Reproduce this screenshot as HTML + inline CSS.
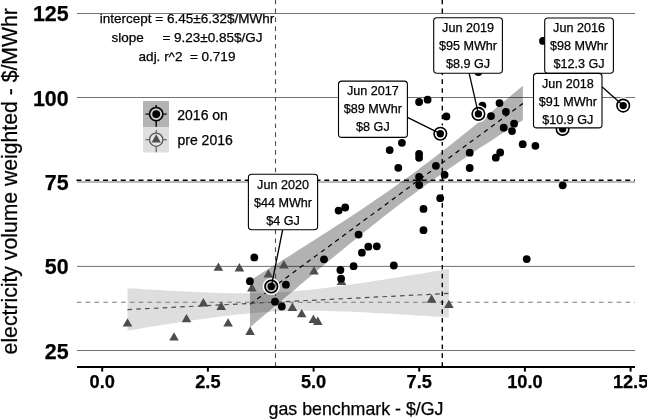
<!DOCTYPE html>
<html><head><meta charset="utf-8"><style>
html,body{margin:0;padding:0;background:#fff;width:647px;height:419px;overflow:hidden}
svg{display:block;font-family:"Liberation Sans",Arial,Helvetica,sans-serif;fill:#000}
text{fill:#000;stroke:#000;stroke-width:0.25px}
</style></head><body>
<svg width="647" height="419" viewBox="0 0 647 419">
<rect width="647" height="419" fill="#fff"/>
<line x1="77" x2="635" y1="13.50" y2="13.50" stroke="#727272" stroke-width="1"/>
<line x1="77" x2="635" y1="97.50" y2="97.50" stroke="#727272" stroke-width="1"/>
<line x1="77" x2="635" y1="182.00" y2="182.00" stroke="#727272" stroke-width="1"/>
<line x1="77" x2="635" y1="266.40" y2="266.40" stroke="#727272" stroke-width="1"/>
<line x1="77" x2="635" y1="350.50" y2="350.50" stroke="#727272" stroke-width="1"/>
<polygon points="127.5,288.2 132.9,288.5 138.2,288.8 143.6,289.2 148.9,289.5 154.3,289.8 159.6,290.1 165.0,290.5 170.4,290.8 175.7,291.0 181.1,291.3 186.4,291.6 191.8,291.8 197.1,292.1 202.5,292.3 207.8,292.5 213.2,292.7 218.6,292.9 223.9,293.0 229.3,293.1 234.6,293.2 240.0,293.2 245.3,293.2 250.7,293.2 256.1,293.1 261.4,293.0 266.8,292.8 272.1,292.6 277.5,292.3 282.8,292.0 288.2,291.7 293.6,291.2 298.9,290.8 304.3,290.3 309.6,289.7 315.0,289.2 320.3,288.5 325.7,287.9 331.1,287.2 336.4,286.5 341.8,285.8 347.1,285.1 352.5,284.3 357.8,283.5 363.2,282.7 368.5,281.9 373.9,281.1 379.3,280.3 384.6,279.4 390.0,278.6 395.3,277.7 400.7,276.9 406.0,276.0 411.4,275.1 416.8,274.2 422.1,273.4 427.5,272.5 432.8,271.6 438.2,270.7 443.5,269.8 448.9,268.9 448.9,317.5 443.5,317.2 438.2,316.8 432.8,316.4 427.5,316.1 422.1,315.7 416.8,315.4 411.4,315.1 406.0,314.7 400.7,314.4 395.3,314.1 390.0,313.8 384.6,313.5 379.3,313.2 373.9,312.9 368.5,312.6 363.2,312.3 357.8,312.1 352.5,311.8 347.1,311.6 341.8,311.4 336.4,311.2 331.1,311.1 325.7,310.9 320.3,310.8 315.0,310.7 309.6,310.7 304.3,310.7 298.9,310.7 293.6,310.8 288.2,310.9 282.8,311.1 277.5,311.3 272.1,311.6 266.8,311.9 261.4,312.3 256.1,312.7 250.7,313.2 245.3,313.7 240.0,314.2 234.6,314.8 229.3,315.4 223.9,316.1 218.6,316.8 213.2,317.5 207.8,318.2 202.5,318.9 197.1,319.7 191.8,320.5 186.4,321.3 181.1,322.1 175.7,322.9 170.4,323.7 165.0,324.6 159.6,325.4 154.3,326.3 148.9,327.1 143.6,328.0 138.2,328.9 132.9,329.8 127.5,330.6" fill="#595959" fill-opacity="0.2"/>
<polygon points="250.0,280.5 254.5,277.7 259.1,274.8 263.6,272.0 268.2,269.1 272.7,266.3 277.3,263.4 281.8,260.6 286.4,257.7 290.9,254.9 295.5,252.0 300.0,249.1 304.6,246.2 309.1,243.3 313.7,240.4 318.2,237.5 322.8,234.6 327.3,231.7 331.9,228.8 336.4,225.8 341.0,222.9 345.5,219.9 350.1,216.9 354.6,213.9 359.2,210.9 363.7,207.9 368.3,204.8 372.8,201.7 377.4,198.6 381.9,195.5 386.4,192.4 391.0,189.2 395.5,186.0 400.1,182.8 404.6,179.5 409.2,176.2 413.7,172.9 418.3,169.5 422.8,166.1 427.4,162.7 431.9,159.3 436.5,155.8 441.0,152.3 445.6,148.7 450.1,145.2 454.7,141.6 459.2,138.0 463.8,134.3 468.3,130.7 472.9,127.0 477.4,123.3 482.0,119.6 486.5,115.9 491.1,112.2 495.6,108.4 500.2,104.7 504.7,100.9 509.3,97.1 513.8,93.3 518.4,89.5 522.9,85.7 522.9,120.2 518.4,123.1 513.8,126.0 509.3,128.9 504.7,131.9 500.2,134.8 495.6,137.7 491.1,140.7 486.5,143.7 482.0,146.6 477.4,149.6 472.9,152.6 468.3,155.7 463.8,158.7 459.2,161.8 454.7,164.9 450.1,168.0 445.6,171.1 441.0,174.3 436.5,177.5 431.9,180.7 427.4,183.9 422.8,187.2 418.3,190.5 413.7,193.9 409.2,197.2 404.6,200.6 400.1,204.1 395.5,207.5 391.0,211.0 386.4,214.6 381.9,218.1 377.4,221.7 372.8,225.3 368.3,228.9 363.7,232.5 359.2,236.2 354.6,239.9 350.1,243.6 345.5,247.3 341.0,251.0 336.4,254.8 331.9,258.5 327.3,262.3 322.8,266.1 318.2,269.8 313.7,273.6 309.1,277.4 304.6,281.2 300.0,285.1 295.5,288.9 290.9,292.7 286.4,296.5 281.8,300.4 277.3,304.2 272.7,308.1 268.2,311.9 263.6,315.8 259.1,319.6 254.5,323.5 250.0,327.4" fill="#000" fill-opacity="0.3"/>
<line x1="250.1" y1="304.3" x2="522.9" y2="103.5" stroke="#000" stroke-width="1.2" stroke-dasharray="4.6 4.2"/>
<line x1="127.5" y1="309.6" x2="448.9" y2="293.4" stroke="#4d4d4d" stroke-width="1.2" stroke-dasharray="4.6 4.2"/>
<line x1="76.5" x2="635" y1="180.2" y2="180.2" stroke="#000" stroke-width="1.5" stroke-dasharray="5 3.85"/>
<line x1="76.8" x2="635" y1="302.2" y2="302.2" stroke="#7a7a7a" stroke-width="1.1" stroke-dasharray="4.6 4.25"/>
<line x1="442.3" x2="442.3" y1="0" y2="366" stroke="#000" stroke-width="1.4" stroke-dasharray="4.6 4.24" stroke-dashoffset="0.24"/>
<line x1="275.5" x2="275.5" y1="0" y2="366" stroke="#4d4d4d" stroke-width="1.1" stroke-dasharray="4.6 4.24" stroke-dashoffset="0.24"/>
<polygon points="127.5,318.2 132.3,326.6 122.7,326.6" fill="#4d4d4d"/>
<polygon points="186.5,313.9 191.3,322.3 181.7,322.3" fill="#4d4d4d"/>
<polygon points="174.0,332.2 178.8,340.6 169.2,340.6" fill="#4d4d4d"/>
<polygon points="203.4,298.1 208.2,306.5 198.6,306.5" fill="#4d4d4d"/>
<polygon points="221.2,301.6 226.0,310.0 216.4,310.0" fill="#4d4d4d"/>
<polygon points="228.1,318.2 232.9,326.6 223.3,326.6" fill="#4d4d4d"/>
<polygon points="218.4,262.4 223.2,270.8 213.6,270.8" fill="#4d4d4d"/>
<polygon points="239.4,263.0 244.2,271.4 234.6,271.4" fill="#4d4d4d"/>
<polygon points="251.9,283.1 256.7,291.5 247.1,291.5" fill="#4d4d4d"/>
<polygon points="250.1,326.5 254.9,334.9 245.3,334.9" fill="#4d4d4d"/>
<polygon points="268.4,269.2 273.2,277.6 263.6,277.6" fill="#4d4d4d"/>
<polygon points="283.8,260.1 288.6,268.5 279.0,268.5" fill="#4d4d4d"/>
<polygon points="314.0,266.2 318.8,274.6 309.2,274.6" fill="#4d4d4d"/>
<polygon points="292.4,302.5 297.2,310.9 287.6,310.9" fill="#4d4d4d"/>
<polygon points="301.7,308.9 306.5,317.3 296.9,317.3" fill="#4d4d4d"/>
<polygon points="313.4,314.5 318.2,322.9 308.6,322.9" fill="#4d4d4d"/>
<polygon points="317.8,316.6 322.6,325.0 313.0,325.0" fill="#4d4d4d"/>
<polygon points="341.5,276.7 346.3,285.1 336.7,285.1" fill="#4d4d4d"/>
<polygon points="431.6,294.3 436.4,302.7 426.8,302.7" fill="#4d4d4d"/>
<polygon points="448.9,299.7 453.7,308.1 444.1,308.1" fill="#4d4d4d"/>
<circle cx="254.3" cy="257.4" r="3.9" fill="#000"/>
<circle cx="249.9" cy="281.2" r="3.9" fill="#000"/>
<circle cx="285.9" cy="284.7" r="3.9" fill="#000"/>
<circle cx="275.0" cy="301.7" r="3.9" fill="#000"/>
<circle cx="281.8" cy="306.5" r="3.9" fill="#000"/>
<circle cx="324.0" cy="259.3" r="3.9" fill="#000"/>
<circle cx="338.6" cy="210.6" r="3.9" fill="#000"/>
<circle cx="345.2" cy="207.5" r="3.9" fill="#000"/>
<circle cx="358.6" cy="234.6" r="3.9" fill="#000"/>
<circle cx="340.4" cy="270.0" r="3.9" fill="#000"/>
<circle cx="341.1" cy="278.7" r="3.9" fill="#000"/>
<circle cx="353.6" cy="266.2" r="3.9" fill="#000"/>
<circle cx="368.3" cy="246.7" r="3.9" fill="#000"/>
<circle cx="376.8" cy="246.3" r="3.9" fill="#000"/>
<circle cx="361.9" cy="252.7" r="3.9" fill="#000"/>
<circle cx="393.8" cy="265.5" r="3.9" fill="#000"/>
<circle cx="423.5" cy="208.9" r="3.9" fill="#000"/>
<circle cx="423.5" cy="230.2" r="3.9" fill="#000"/>
<circle cx="419.1" cy="177.0" r="3.9" fill="#000"/>
<circle cx="419.2" cy="185.0" r="3.9" fill="#000"/>
<circle cx="444.6" cy="174.8" r="3.9" fill="#000"/>
<circle cx="440.2" cy="198.2" r="3.9" fill="#000"/>
<circle cx="435.9" cy="165.8" r="3.9" fill="#000"/>
<circle cx="419.1" cy="154.0" r="3.9" fill="#000"/>
<circle cx="419.1" cy="157.8" r="3.9" fill="#000"/>
<circle cx="401.9" cy="142.8" r="3.9" fill="#000"/>
<circle cx="389.7" cy="150.1" r="3.9" fill="#000"/>
<circle cx="398.3" cy="167.8" r="3.9" fill="#000"/>
<circle cx="469.7" cy="152.7" r="3.9" fill="#000"/>
<circle cx="469.7" cy="168.0" r="3.9" fill="#000"/>
<circle cx="419.1" cy="102.0" r="3.9" fill="#000"/>
<circle cx="427.6" cy="99.7" r="3.9" fill="#000"/>
<circle cx="446.4" cy="116.4" r="3.9" fill="#000"/>
<circle cx="482.4" cy="105.7" r="3.9" fill="#000"/>
<circle cx="499.5" cy="103.1" r="3.9" fill="#000"/>
<circle cx="505.9" cy="111.8" r="3.9" fill="#000"/>
<circle cx="491.0" cy="116.1" r="3.9" fill="#000"/>
<circle cx="514.1" cy="123.7" r="3.9" fill="#000"/>
<circle cx="503.7" cy="127.7" r="3.9" fill="#000"/>
<circle cx="512.0" cy="131.1" r="3.9" fill="#000"/>
<circle cx="522.7" cy="144.2" r="3.9" fill="#000"/>
<circle cx="535.4" cy="145.8" r="3.9" fill="#000"/>
<circle cx="500.2" cy="152.5" r="3.9" fill="#000"/>
<circle cx="495.8" cy="157.7" r="3.9" fill="#000"/>
<circle cx="562.7" cy="185.3" r="3.9" fill="#000"/>
<circle cx="526.7" cy="259.1" r="3.9" fill="#000"/>
<circle cx="478.3" cy="72.0" r="3.9" fill="#000"/>
<circle cx="543.0" cy="40.9" r="3.9" fill="#000"/>
<circle cx="271.3" cy="286.5" r="7.8" fill="none" stroke="#fff" stroke-width="1.6"/>
<circle cx="271.3" cy="286.5" r="5.4" fill="#fff" fill-opacity="0.35"/>
<circle cx="271.3" cy="286.5" r="6.25" fill="none" stroke="#000" stroke-width="1.65"/>
<circle cx="271.3" cy="286.5" r="3.7" fill="#000"/>
<circle cx="440.3" cy="133.7" r="7.8" fill="none" stroke="#fff" stroke-width="1.6"/>
<circle cx="440.3" cy="133.7" r="5.4" fill="#fff" fill-opacity="0.35"/>
<circle cx="440.3" cy="133.7" r="6.25" fill="none" stroke="#000" stroke-width="1.65"/>
<circle cx="440.3" cy="133.7" r="3.7" fill="#000"/>
<circle cx="478.4" cy="113.9" r="7.8" fill="none" stroke="#fff" stroke-width="1.6"/>
<circle cx="478.4" cy="113.9" r="5.4" fill="#fff" fill-opacity="0.35"/>
<circle cx="478.4" cy="113.9" r="6.25" fill="none" stroke="#000" stroke-width="1.65"/>
<circle cx="478.4" cy="113.9" r="3.7" fill="#000"/>
<circle cx="562.6" cy="128.9" r="7.8" fill="none" stroke="#fff" stroke-width="1.6"/>
<circle cx="562.6" cy="128.9" r="5.4" fill="#fff" fill-opacity="0.35"/>
<circle cx="562.6" cy="128.9" r="6.25" fill="none" stroke="#000" stroke-width="1.65"/>
<circle cx="562.6" cy="128.9" r="3.7" fill="#000"/>
<circle cx="623.2" cy="105.6" r="7.8" fill="none" stroke="#fff" stroke-width="1.6"/>
<circle cx="623.2" cy="105.6" r="5.4" fill="#fff" fill-opacity="0.35"/>
<circle cx="623.2" cy="105.6" r="6.25" fill="none" stroke="#000" stroke-width="1.65"/>
<circle cx="623.2" cy="105.6" r="3.7" fill="#000"/>
<line x1="282.6" y1="230.0" x2="271.3" y2="286.5" stroke="#000" stroke-width="1.3"/>
<rect x="248.4" y="174.3" width="69.2" height="55.5" rx="3.2" fill="#fff" stroke="#000" stroke-width="1.1"/>
<text x="283.0" y="188.5" text-anchor="middle" font-size="12.6">Jun 2020</text>
<text x="283.0" y="206.5" text-anchor="middle" font-size="12.6">$44 MWhr</text>
<text x="283.0" y="224.5" text-anchor="middle" font-size="12.6">$4 GJ</text>
<line x1="407.4" y1="117.3" x2="440.3" y2="133.7" stroke="#000" stroke-width="1.3"/>
<rect x="338.5" y="81.1" width="68.9" height="56.3" rx="3.2" fill="#fff" stroke="#000" stroke-width="1.1"/>
<text x="372.9" y="95.3" text-anchor="middle" font-size="12.6">Jun 2017</text>
<text x="372.9" y="113.3" text-anchor="middle" font-size="12.6">$89 MWhr</text>
<text x="372.9" y="131.3" text-anchor="middle" font-size="12.6">$8 GJ</text>
<line x1="469.2" y1="73.3" x2="478.4" y2="113.9" stroke="#000" stroke-width="1.3"/>
<rect x="433.7" y="17.7" width="68.7" height="55.6" rx="3.2" fill="#fff" stroke="#000" stroke-width="1.1"/>
<text x="468.0" y="31.9" text-anchor="middle" font-size="12.6">Jun 2019</text>
<text x="468.0" y="49.9" text-anchor="middle" font-size="12.6">$95 MWhr</text>
<text x="468.0" y="67.9" text-anchor="middle" font-size="12.6">$8.9 GJ</text>
<line x1="586.6" y1="73.3" x2="623.2" y2="105.6" stroke="#000" stroke-width="1.3"/>
<rect x="544.7" y="18.0" width="68.7" height="55.3" rx="3.2" fill="#fff" stroke="#000" stroke-width="1.1"/>
<text x="579.0" y="32.2" text-anchor="middle" font-size="12.6">Jun 2016</text>
<text x="579.0" y="50.2" text-anchor="middle" font-size="12.6">$98 MWhr</text>
<text x="579.0" y="68.2" text-anchor="middle" font-size="12.6">$12.3 GJ</text>
<rect x="533.5" y="73.4" width="68.5" height="54.5" rx="3.2" fill="#fff" stroke="#000" stroke-width="1.1"/>
<text x="567.8" y="87.6" text-anchor="middle" font-size="12.6">Jun 2018</text>
<text x="567.8" y="105.6" text-anchor="middle" font-size="12.6">$91 MWhr</text>
<text x="567.8" y="123.6" text-anchor="middle" font-size="12.6">$10.9 GJ</text>
<line x1="77" x2="635" y1="367" y2="367" stroke="#000" stroke-width="2"/>
<line x1="102.2" x2="102.2" y1="367" y2="371.6" stroke="#000" stroke-width="2"/>
<text x="102.2" y="387.6" text-anchor="middle" font-size="18.2" font-weight="bold">0.0</text>
<line x1="207.9" x2="207.9" y1="367" y2="371.6" stroke="#000" stroke-width="2"/>
<text x="207.9" y="387.6" text-anchor="middle" font-size="18.2" font-weight="bold">2.5</text>
<line x1="313.6" x2="313.6" y1="367" y2="371.6" stroke="#000" stroke-width="2"/>
<text x="313.6" y="387.6" text-anchor="middle" font-size="18.2" font-weight="bold">5.0</text>
<line x1="419.2" x2="419.2" y1="367" y2="371.6" stroke="#000" stroke-width="2"/>
<text x="419.2" y="387.6" text-anchor="middle" font-size="18.2" font-weight="bold">7.5</text>
<line x1="524.9" x2="524.9" y1="367" y2="371.6" stroke="#000" stroke-width="2"/>
<text x="524.9" y="387.6" text-anchor="middle" font-size="18.2" font-weight="bold">10.0</text>
<line x1="630.6" x2="630.6" y1="367" y2="371.6" stroke="#000" stroke-width="2"/>
<text x="630.6" y="387.6" text-anchor="middle" font-size="18.2" font-weight="bold">12.5</text>
<text x="68.6" y="21.4" text-anchor="end" font-size="21.4" font-weight="bold">125</text>
<text x="68.6" y="105.7" text-anchor="end" font-size="21.4" font-weight="bold">100</text>
<text x="68.6" y="190.0" text-anchor="end" font-size="21.4" font-weight="bold">75</text>
<text x="68.6" y="274.3" text-anchor="end" font-size="21.4" font-weight="bold">50</text>
<text x="68.6" y="358.6" text-anchor="end" font-size="21.4" font-weight="bold">25</text>
<text x="356" y="415" text-anchor="middle" font-size="17.8">gas benchmark - $/GJ</text>
<text transform="translate(17.4,181.3) rotate(-90)" x="0" y="0" text-anchor="middle" font-size="21.2">electricity volume weighted - $/MWhr</text>
<text x="187" y="22.5" text-anchor="middle" font-size="13.5" xml:space="preserve" style="white-space:pre">intercept = 6.45±6.32$/MWhr</text>
<text x="187" y="41.6" text-anchor="middle" font-size="13.5" xml:space="preserve" style="white-space:pre">slope     = 9.23±0.85$/GJ</text>
<text x="187" y="61.1" text-anchor="middle" font-size="13.5" xml:space="preserve" style="white-space:pre">adj. r^2  = 0.719</text>
<rect x="143" y="101" width="26" height="26" fill="#b3b3b3"/>
<rect x="143" y="127" width="26" height="25.5" fill="#dedede"/>
<line x1="145.5" x2="149.6" y1="114.1" y2="114.1" stroke="#000" stroke-width="1.2"/><line x1="162.79999999999998" x2="166.7" y1="114.1" y2="114.1" stroke="#000" stroke-width="1.2"/><line x1="156.2" x2="156.2" y1="105" y2="107.5" stroke="#000" stroke-width="1.4"/><line x1="156.2" x2="156.2" y1="120.69999999999999" y2="126.8" stroke="#000" stroke-width="1.4"/>
<circle cx="156.2" cy="114.1" r="6.65" fill="#cbcbcb" stroke="#000" stroke-width="1.6"/>
<circle cx="156.2" cy="114.1" r="3.95" fill="#000"/>
<line x1="145.5" x2="149.6" y1="139.7" y2="139.7" stroke="#555" stroke-width="1.1"/><line x1="162.79999999999998" x2="166.7" y1="139.7" y2="139.7" stroke="#555" stroke-width="1.1"/><line x1="156.2" x2="156.2" y1="130" y2="133.1" stroke="#555" stroke-width="1.1"/><line x1="156.2" x2="156.2" y1="146.29999999999998" y2="152.3" stroke="#555" stroke-width="1.1"/>
<circle cx="156.2" cy="139.7" r="6.65" fill="#e6e6e6" stroke="#555" stroke-width="1.3"/>
<polygon points="156.2,134.35 160.88,142.45 151.52,142.45" fill="#4d4d4d"/>
<text x="177.3" y="119.7" font-size="14.0">2016 on</text>
<text x="177.5" y="144.7" font-size="14.0">pre 2016</text>
</svg>
</body></html>
